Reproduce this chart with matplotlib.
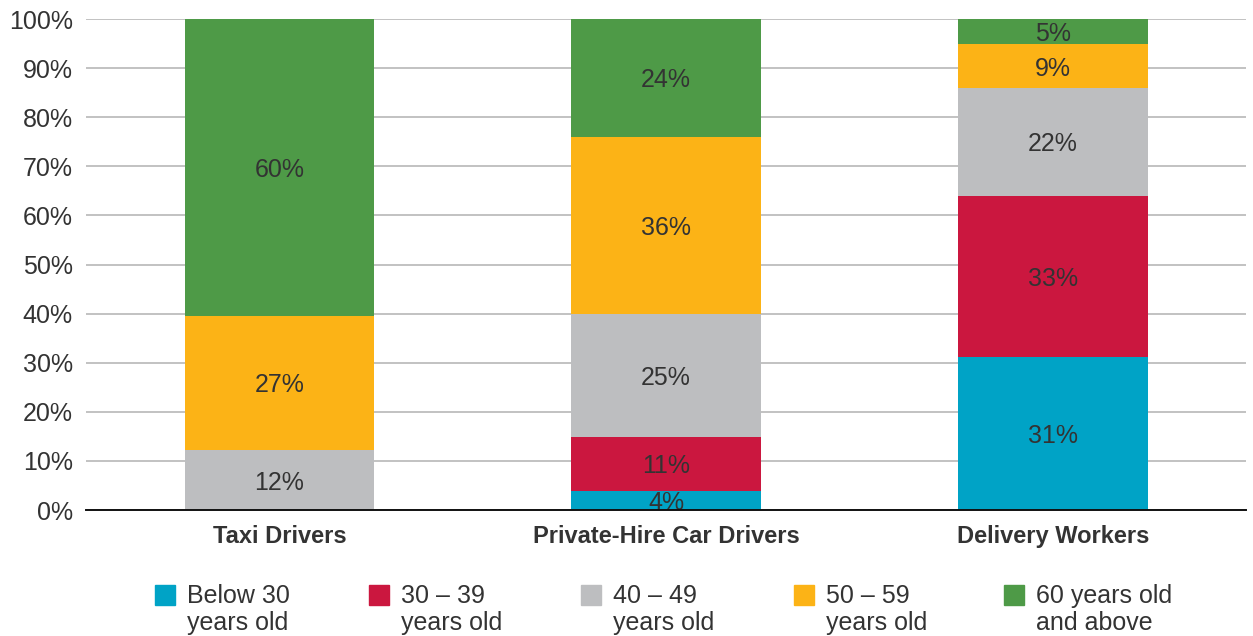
"""Age profile of taxi, private-hire car and delivery workers (stacked shares)."""

import matplotlib.pyplot as plt
from matplotlib.patches import Rectangle

plt.rcParams["font.family"] = ["Liberation Sans", "DejaVu Sans"]

TEXT_COLOR = "#333333"

categories = ["Taxi Drivers", "Private-Hire Car Drivers", "Delivery Workers"]
age_groups = [
    "Below 30\nyears old",
    "30 \u2013 39\nyears old",
    "40 \u2013 49\nyears old",
    "50 \u2013 59\nyears old",
    "60 years old\nand above",
]
colors = ["#00A3C6", "#CB173F", "#BDBEC0", "#FCB316", "#4E9A47"]

# share of workers (%) per age group, one list per group across the categories
below_30 = [0.0, 3.9, 31.2]
age_30_39 = [0.0, 11.0, 32.8]
age_40_49 = [12.2, 25.0, 21.9]
age_50_59 = [27.4, 36.1, 9.0]
age_60_plus = [60.4, 24.0, 5.1]
series = [below_30, age_30_39, age_40_49, age_50_59, age_60_plus]

fig = plt.figure(figsize=(12.53, 6.36), dpi=100)
ax = fig.add_axes([0.0686, 0.1981, 0.926, 0.772])

x = range(len(categories))
bottoms = [0.0] * len(categories)
for values, color in zip(series, colors):
    bars = ax.bar(x, values, width=0.49, bottom=bottoms, color=color, zorder=2)
    for bar, value, base in zip(bars, values, bottoms):
        if value < 1:
            continue
        ax.text(bar.get_x() + bar.get_width() / 2, base + value / 2 - 0.5,
                f"{value:.0f}%", ha="center", va="center",
                fontsize=18, color=TEXT_COLOR, zorder=3)
    bottoms = [b + v for b, v in zip(bottoms, values)]

ax.set_xlim(-0.5, 2.5)
ax.set_ylim(0, 100)
ax.set_yticks(range(0, 101, 10))
ax.set_yticklabels([f"{t}%" for t in range(0, 101, 10)])
ax.set_xticks(list(x))
ax.set_xticklabels(categories, fontweight="bold")
ax.tick_params(axis="y", length=0, pad=9.5, labelsize=18, labelcolor=TEXT_COLOR)
ax.tick_params(axis="x", length=0, pad=11, labelsize=17, labelcolor=TEXT_COLOR)
ax.yaxis.grid(True, color="#BDBDBD", linewidth=1.3, zorder=0)
for side in ["left", "right", "top"]:
    ax.spines[side].set_visible(False)
ax.spines["bottom"].set_color("#111111")
ax.spines["bottom"].set_linewidth(1.4)
ax.spines["bottom"].set_zorder(4)

# legend laid out by hand: square swatch beside a two-line label
W, H = 1253, 636
legend_x = [155, 369, 581, 794, 1004]
for left, label, color in zip(legend_x, age_groups, colors):
    fig.add_artist(Rectangle((left / W, (H - 605) / H), 20 / W, 20 / H,
                             transform=fig.transFigure, color=color))
    fig.text((left + 32) / W, (H - 584) / H, label, ha="left", va="top",
             fontsize=18, color=TEXT_COLOR, linespacing=1.15)

fig.savefig("out.png", dpi=100, facecolor="white")
